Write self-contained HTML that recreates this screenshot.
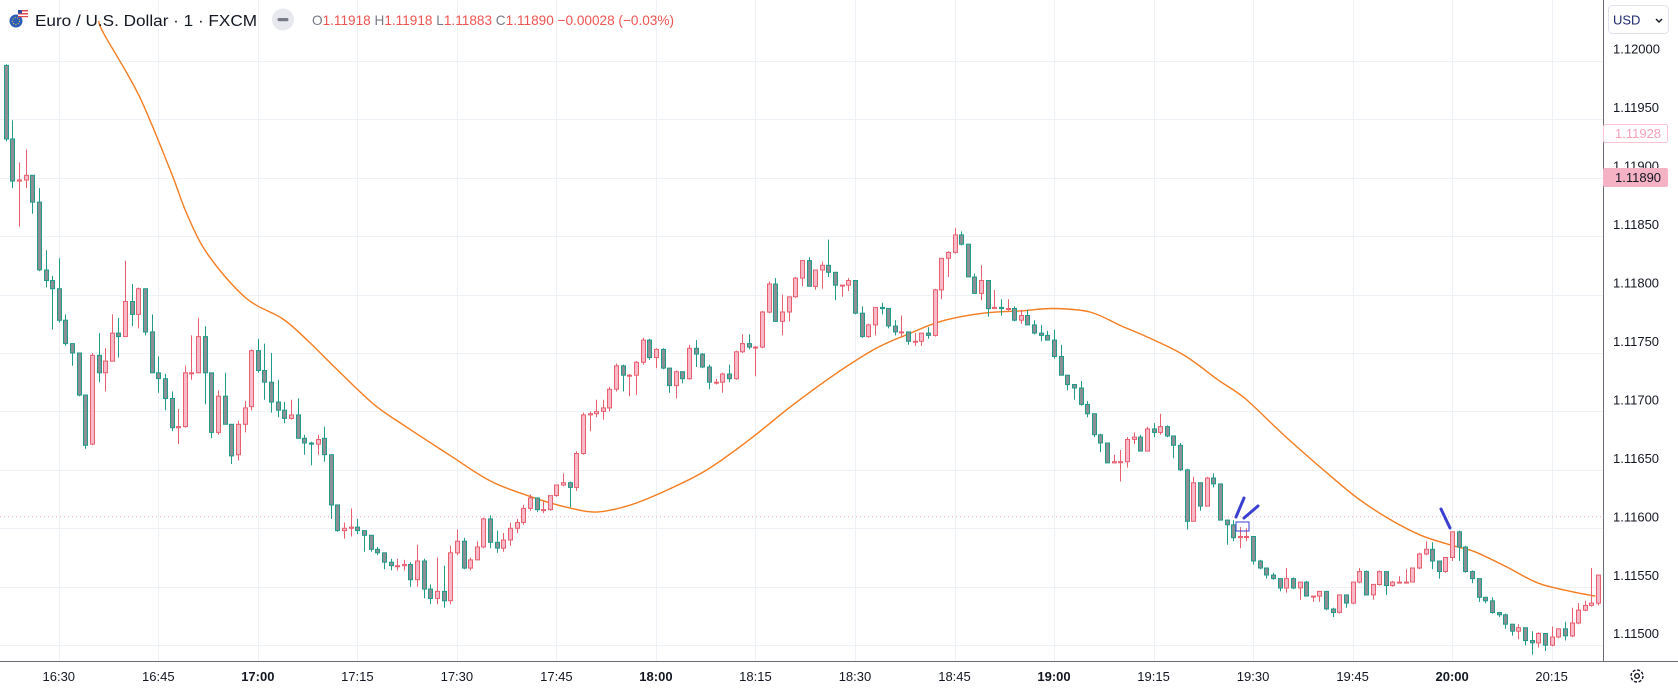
<!DOCTYPE html>
<html><head><meta charset="utf-8"><style>
html,body{margin:0;padding:0;background:#fff;}
svg{display:block;font-family:"Liberation Sans",sans-serif;}
</style></head><body>
<svg id="chart" width="1678" height="693" viewBox="0 0 1678 693" xmlns="http://www.w3.org/2000/svg">
<rect x="0" y="0" width="1678" height="693" fill="#ffffff"/>
<g id="grid"></g>
<line x1="0" y1="516.7" x2="1603" y2="516.7" stroke="#f5a8bf" stroke-width="1" stroke-dasharray="1,3"/>
<g id="ma"></g>
<g id="candles"></g>
<g stroke="#3b3fd0" stroke-width="3" stroke-linecap="round" fill="none">
<line x1="1244" y1="498" x2="1236" y2="517"/>
<line x1="1258" y1="506" x2="1244" y2="518"/>
<rect x="1236" y="522" width="13" height="9" stroke-width="1"/>
<line x1="1441" y1="509" x2="1450" y2="528"/>
</g>
<rect x="1603" y="0" width="75" height="693" fill="#fff"/>
<rect x="0" y="661" width="1678" height="32" fill="#fff"/>
<line x1="1603.5" y1="0" x2="1603.5" y2="661" stroke="#6a6d78" stroke-width="1"/>
<line x1="0" y1="661.5" x2="1678" y2="661.5" stroke="#6a6d78" stroke-width="1"/>
<g id="ylabels"></g>
<g id="xlabels"></g>
<g>
<rect x="1608.5" y="5.5" width="60" height="28" rx="4" fill="#fff" stroke="#e0e3eb"/>
<text x="1613" y="24.5" font-size="13" fill="#1e2a6e">USD</text>
<path d="M1656 19 l3 3 l3 -3" stroke="#131722" stroke-width="1.4" fill="none"/>
</g>
<g>
<rect x="1603.5" y="124.5" width="64" height="18" fill="#fff" stroke="#f9c3d2" rx="2"/>
<text x="1615" y="138" font-size="13" fill="#f4a0b9">1.11928</text>
</g>
<g>
<rect x="1603" y="168" width="65" height="19" fill="#f5b2c5" rx="2"/>
<text x="1615" y="182" font-size="13" fill="#131722">1.11890</text>
</g>
<g fill="none" stroke="#131722" stroke-width="1.4">
<circle cx="1637" cy="676" r="6" stroke-dasharray="3,1.7"/>
<circle cx="1637" cy="676" r="2.3"/>
</g>
<g>
<g>
<circle cx="16" cy="21" r="6.5" fill="#2a5cb8"/>
<circle cx="16" cy="21" r="3.5" fill="none" stroke="#f5d23a" stroke-width="1" stroke-dasharray="1,1.5"/>
<rect x="18" y="10" width="10" height="7" fill="#fff"/>
<rect x="18" y="10" width="10" height="1.5" fill="#e0474b"/>
<rect x="18" y="13" width="10" height="1.5" fill="#e0474b"/>
<rect x="18" y="16" width="10" height="1.2" fill="#e0474b"/>
<rect x="18" y="10" width="4" height="3.5" fill="#2a4fa0"/>
</g>
<text x="35" y="26" font-size="16" fill="#131722" textLength="222" lengthAdjust="spacingAndGlyphs">Euro / U.S. Dollar · 1 · FXCM</text>
<circle cx="283" cy="19.5" r="11" fill="#e6e8ee"/>
<rect x="277.5" y="18" width="11" height="3.2" rx="1.6" fill="#787b86"/>
<text x="312" y="25" font-size="14" textLength="362" lengthAdjust="spacingAndGlyphs"><tspan fill="#787b86">O</tspan><tspan fill="#ef5350">1.11918 </tspan><tspan fill="#787b86">H</tspan><tspan fill="#ef5350">1.11918 </tspan><tspan fill="#787b86">L</tspan><tspan fill="#ef5350">1.11883 </tspan><tspan fill="#787b86">C</tspan><tspan fill="#ef5350">1.11890 −0.00028 (−0.03%)</tspan></text>
</g>
</svg>
<script>
const openP=[1.11996,1.11933,1.11897,1.11898,1.11902,1.11879,1.11821,1.11812,1.11805,1.11778,1.11758,1.11750,1.11714,1.11672,1.11748,1.11733,1.11743,1.11767,1.11764,1.11794,1.11783,1.11805,1.11768,1.11733,1.11728,1.11711,1.11686,1.11687,1.11733,1.11733,1.11764,1.11733,1.11682,1.11713,1.11689,1.11663,1.11689,1.11704,1.11752,1.11735,1.11725,1.11708,1.11701,1.11694,1.11697,1.11677,1.11673,1.11672,1.11677,1.11663,1.11620,1.11598,1.11600,1.11601,1.11598,1.11594,1.11582,1.11579,1.11571,1.11568,1.11568,1.11569,1.11556,1.11572,1.11548,1.11540,1.11546,1.11538,1.11579,1.11589,1.11566,1.11573,1.11584,1.11608,1.11588,1.11583,1.11590,1.11600,1.11605,1.11617,1.11626,1.11616,1.11616,1.11628,1.11637,1.11639,1.11635,1.11664,1.11697,1.11698,1.11700,1.11703,1.11719,1.11739,1.11731,1.11731,1.11742,1.11761,1.11746,1.11753,1.11737,1.11722,1.11734,1.11728,1.11754,1.11749,1.11738,1.11725,1.11725,1.11732,1.11728,1.11751,1.11758,1.11755,1.11755,1.11785,1.11809,1.11777,1.11785,1.11798,1.11814,1.11829,1.11807,1.11821,1.11825,1.11819,1.11808,1.11808,1.11812,1.11784,1.11764,1.11774,1.11789,1.11788,1.11773,1.11768,1.11768,1.11760,1.11760,1.11767,1.11765,1.11804,1.11831,1.11836,1.11851,1.11843,1.11815,1.11801,1.11812,1.11788,1.11789,1.11788,1.11788,1.11778,1.11782,1.11774,1.11767,1.11765,1.11761,1.11747,1.11731,1.11723,1.11720,1.11706,1.11698,1.11680,1.11673,1.11656,1.11657,1.11657,1.11676,1.11678,1.11666,1.11685,1.11682,1.11687,1.11679,1.11671,1.11650,1.11606,1.11639,1.11619,1.11643,1.11638,1.11607,1.11603,1.11592,1.11593,1.11593,1.11572,1.11566,1.11560,1.11557,1.11549,1.11557,1.11549,1.11554,1.11542,1.11542,1.11546,1.11531,1.11528,1.11543,1.11536,1.11554,1.11563,1.11543,1.11552,1.11563,1.11551,1.11554,1.11554,1.11554,1.11566,1.11578,1.11582,1.11572,1.11563,1.11575,1.11597,1.11584,1.11563,1.11557,1.11541,1.11538,1.11528,1.11526,1.11518,1.11512,1.11515,1.11504,1.11502,1.11510,1.11500,1.11507,1.11514,1.11508,1.11519,1.11530,1.11534,1.11536];
const highP=[1.11997,1.11949,1.11913,1.11924,1.11902,1.11891,1.11838,1.11816,1.11831,1.11783,1.11758,1.11750,1.11714,1.11750,1.11767,1.11754,1.11783,1.11780,1.11829,1.11809,1.11806,1.11805,1.11783,1.11747,1.11732,1.11717,1.11702,1.11739,1.11765,1.11780,1.11773,1.11733,1.11718,1.11733,1.11689,1.11692,1.11709,1.11753,1.11762,1.11758,1.11750,1.11727,1.11708,1.11710,1.11711,1.11680,1.11674,1.11680,1.11687,1.11663,1.11620,1.11605,1.11617,1.11608,1.11598,1.11594,1.11584,1.11579,1.11574,1.11574,1.11573,1.11571,1.11586,1.11574,1.11552,1.11575,1.11568,1.11585,1.11599,1.11592,1.11575,1.11589,1.11609,1.11611,1.11598,1.11596,1.11605,1.11608,1.11620,1.11629,1.11626,1.11623,1.11628,1.11637,1.11647,1.11640,1.11666,1.11699,1.11700,1.11710,1.11710,1.11721,1.11741,1.11740,1.11732,1.11743,1.11763,1.11762,1.11754,1.11754,1.11737,1.11735,1.11734,1.11757,1.11761,1.11750,1.11740,1.11728,1.11733,1.11740,1.11752,1.11766,1.11766,1.11756,1.11786,1.11811,1.11814,1.11800,1.11798,1.11815,1.11829,1.11832,1.11821,1.11828,1.11847,1.11819,1.11808,1.11814,1.11812,1.11790,1.11775,1.11789,1.11793,1.11788,1.11778,1.11782,1.11768,1.11767,1.11767,1.11772,1.11805,1.11831,1.11837,1.11857,1.11854,1.11843,1.11818,1.11825,1.11812,1.11804,1.11796,1.11796,1.11790,1.11787,1.11787,1.11778,1.11774,1.11769,1.11770,1.11757,1.11731,1.11723,1.11726,1.11709,1.11698,1.11681,1.11673,1.11663,1.11667,1.11678,1.11682,1.11680,1.11687,1.11690,1.11698,1.11688,1.11679,1.11673,1.11651,1.11644,1.11639,1.11644,1.11647,1.11638,1.11607,1.11607,1.11601,1.11600,1.11593,1.11573,1.11566,1.11562,1.11557,1.11566,1.11558,1.11554,1.11555,1.11542,1.11546,1.11546,1.11532,1.11543,1.11543,1.11554,1.11566,1.11564,1.11552,1.11564,1.11563,1.11555,1.11559,1.11565,1.11566,1.11579,1.11589,1.11588,1.11572,1.11575,1.11597,1.11598,1.11585,1.11564,1.11557,1.11541,1.11541,1.11528,1.11527,1.11518,1.11518,1.11506,1.11512,1.11511,1.11508,1.11516,1.11514,1.11520,1.11532,1.11536,1.11538,1.11566];
const lowP=[1.11931,1.11891,1.11858,1.11891,1.11869,1.11820,1.11806,1.11770,1.11776,1.11756,1.11739,1.11713,1.11668,1.11671,1.11725,1.11717,1.11743,1.11746,1.11764,1.11773,1.11771,1.11765,1.11733,1.11716,1.11701,1.11683,1.11672,1.11686,1.11727,1.11733,1.11706,1.11677,1.11680,1.11689,1.11655,1.11658,1.11682,1.11701,1.11733,1.11710,1.11699,1.11695,1.11690,1.11693,1.11677,1.11663,1.11654,1.11663,1.11657,1.11608,1.11597,1.11591,1.11593,1.11595,1.11580,1.11580,1.11577,1.11565,1.11564,1.11564,1.11564,1.11550,1.11550,1.11540,1.11535,1.11535,1.11532,1.11535,1.11577,1.11565,1.11564,1.11573,1.11583,1.11583,1.11579,1.11580,1.11585,1.11596,1.11603,1.11615,1.11614,1.11613,1.11615,1.11627,1.11636,1.11618,1.11632,1.11663,1.11683,1.11695,1.11693,1.11700,1.11717,1.11717,1.11713,1.11714,1.11740,1.11744,1.11737,1.11736,1.11716,1.11711,1.11724,1.11727,1.11738,1.11737,1.11719,1.11723,1.11716,1.11725,1.11727,1.11750,1.11753,1.11730,1.11754,1.11784,1.11777,1.11765,1.11777,1.11797,1.11807,1.11807,1.11804,1.11805,1.11815,1.11795,1.11798,1.11803,1.11783,1.11763,1.11763,1.11765,1.11783,1.11771,1.11765,1.11764,1.11757,1.11756,1.11756,1.11762,1.11764,1.11796,1.11815,1.11835,1.11842,1.11815,1.11801,1.11795,1.11781,1.11788,1.11782,1.11786,1.11777,1.11775,1.11774,1.11766,1.11760,1.11761,1.11745,1.11731,1.11718,1.11710,1.11705,1.11695,1.11678,1.11665,1.11656,1.11656,1.11640,1.11652,1.11672,1.11666,1.11666,1.11678,1.11680,1.11678,1.11660,1.11649,1.11599,1.11606,1.11615,1.11619,1.11635,1.11607,1.11586,1.11589,1.11583,1.11589,1.11569,1.11565,1.11557,1.11556,1.11546,1.11545,1.11548,1.11539,1.11542,1.11537,1.11537,1.11530,1.11524,1.11527,1.11532,1.11535,1.11553,1.11543,1.11539,1.11551,1.11543,1.11550,1.11553,1.11553,1.11554,1.11565,1.11577,1.11565,1.11557,1.11562,1.11572,1.11572,1.11562,1.11553,1.11537,1.11536,1.11527,1.11524,1.11514,1.11508,1.11505,1.11500,1.11492,1.11498,1.11495,1.11499,1.11506,1.11504,1.11507,1.11518,1.11529,1.11533,1.11534];
const closeP=[1.11933,1.11897,1.11898,1.11902,1.11879,1.11821,1.11812,1.11805,1.11778,1.11758,1.11750,1.11714,1.11671,1.11748,1.11733,1.11743,1.11767,1.11764,1.11794,1.11783,1.11805,1.11768,1.11733,1.11728,1.11711,1.11686,1.11687,1.11733,1.11733,1.11764,1.11733,1.11682,1.11713,1.11689,1.11662,1.11689,1.11703,1.11752,1.11735,1.11725,1.11708,1.11701,1.11694,1.11697,1.11677,1.11673,1.11672,1.11676,1.11663,1.11620,1.11598,1.11600,1.11601,1.11598,1.11594,1.11582,1.11579,1.11571,1.11568,1.11568,1.11569,1.11556,1.11572,1.11548,1.11540,1.11546,1.11538,1.11579,1.11589,1.11566,1.11573,1.11584,1.11608,1.11588,1.11583,1.11590,1.11600,1.11605,1.11617,1.11626,1.11616,1.11616,1.11628,1.11637,1.11639,1.11635,1.11664,1.11697,1.11698,1.11700,1.11703,1.11719,1.11739,1.11731,1.11731,1.11742,1.11761,1.11746,1.11753,1.11737,1.11722,1.11734,1.11728,1.11754,1.11749,1.11738,1.11725,1.11725,1.11732,1.11728,1.11751,1.11758,1.11755,1.11755,1.11785,1.11809,1.11777,1.11785,1.11798,1.11814,1.11829,1.11807,1.11821,1.11825,1.11819,1.11808,1.11808,1.11812,1.11784,1.11764,1.11774,1.11789,1.11788,1.11773,1.11768,1.11768,1.11760,1.11760,1.11767,1.11765,1.11804,1.11831,1.11836,1.11851,1.11843,1.11815,1.11801,1.11812,1.11788,1.11789,1.11788,1.11788,1.11778,1.11782,1.11774,1.11767,1.11765,1.11761,1.11747,1.11731,1.11723,1.11720,1.11706,1.11698,1.11680,1.11673,1.11656,1.11657,1.11657,1.11676,1.11678,1.11666,1.11685,1.11682,1.11687,1.11679,1.11671,1.11650,1.11606,1.11639,1.11619,1.11643,1.11638,1.11607,1.11603,1.11592,1.11593,1.11593,1.11572,1.11566,1.11560,1.11557,1.11549,1.11557,1.11549,1.11554,1.11542,1.11542,1.11546,1.11531,1.11528,1.11543,1.11536,1.11554,1.11563,1.11543,1.11552,1.11563,1.11551,1.11554,1.11554,1.11554,1.11566,1.11578,1.11582,1.11572,1.11563,1.11575,1.11597,1.11584,1.11563,1.11557,1.11541,1.11538,1.11528,1.11526,1.11518,1.11512,1.11515,1.11504,1.11502,1.11510,1.11500,1.11507,1.11514,1.11508,1.11519,1.11530,1.11534,1.11536,1.11560];
const maIndex=[15,15.8,21.1,25.9,28.3,31.5,37.2,42.8,46.8,50.9,56.5,61.3,67.8,74.2,80.7,86.3,90.3,95.2,100,106.4,112.9,119.3,125.8,132.2,137,141.9,148.3,154,158.8,164.4,169.2,174.1,178.9,183.7,187.8,193.4,199.8,204.7,209.5,214.3,219.2,222.4,227.2,232,236.9,240.6];
const maValue=[1.12034,1.12023,1.11970,1.11905,1.11869,1.11834,1.11797,1.11779,1.11759,1.11736,1.11706,1.11687,1.11663,1.11640,1.11626,1.11617,1.11614,1.11620,1.11631,1.11649,1.11675,1.11704,1.11731,1.11754,1.11766,1.11777,1.11784,1.11786,1.11788,1.11785,1.11773,1.11761,1.11747,1.11727,1.11711,1.11681,1.11649,1.11626,1.11608,1.11594,1.11585,1.11580,1.11567,1.11553,1.11546,1.11542];
const priceTicks=["1.12000","1.11950","1.11900","1.11850","1.11800","1.11750","1.11700","1.11650","1.11600","1.11550","1.11500"];
const timeTicks=["16:30","16:45","17:00","17:15","17:30","17:45","18:00","18:15","18:30","18:45","19:00","19:15","19:30","19:45","20:00","20:15"];
const startMinute=16*60+22;

const NS="http://www.w3.org/2000/svg";
function yOf(p){return 60.7+(1.12-p)*116900;}
function xOfIndex(i){return 5.7+6.635*i;}
function minuteOf(label){const a=label.split(":");return (+a[0])*60+(+a[1]);}
function xOfTime(label){return xOfIndex(minuteOf(label)-startMinute);}
function mk(tag,attrs,parent){const e=document.createElementNS(NS,tag);for(const k in attrs)e.setAttribute(k,attrs[k]);parent.appendChild(e);return e;}

const grid=document.getElementById('grid');
priceTicks.forEach(t=>{
  const y=Math.round(yOf(parseFloat(t)))+0.5;
  const l=mk('line',{x1:0,x2:1603,y1:y,y2:y,stroke:'#eef1f6','stroke-width':1},grid);
  
  
});
timeTicks.forEach(t=>{
  const x=Math.round(xOfTime(t))+0.5;
  const l=mk('line',{x1:x,x2:x,y1:0,y2:661,stroke:'#eef1f6','stroke-width':1},grid);
  
  
});

const ylab=document.getElementById('ylabels');
priceTicks.forEach(t=>{
  const tx=mk('text',{x:1613,y:yOf(parseFloat(t))-7,'font-size':13,fill:'#131722'},ylab);
  tx.textContent=t;
  
  
});
const xlab=document.getElementById('xlabels');
timeTicks.forEach(t=>{
  const bold=t.endsWith(":00");
  const tx=mk('text',{x:xOfTime(t),y:681,'font-size':13,fill:'#131722','text-anchor':'middle','font-weight':bold?'bold':'normal'},xlab);
  tx.textContent=t;
  
  
});

const ma=document.getElementById('ma');
const P=maIndex.map((idx,k)=>[xOfIndex(idx-1),yOf(maValue[k])]);
let d='M'+P[0][0].toFixed(1)+' '+P[0][1].toFixed(1);
for(let k=0;k<P.length-1;k++){
  const p0=P[Math.max(k-1,0)],p1=P[k],p2=P[k+1],p3=P[Math.min(k+2,P.length-1)];
  const c1=[p1[0]+(p2[0]-p0[0])/6,p1[1]+(p2[1]-p0[1])/6];
  const c2=[p2[0]-(p3[0]-p1[0])/6,p2[1]-(p3[1]-p1[1])/6];
  d+=' C'+c1[0].toFixed(1)+' '+c1[1].toFixed(1)+' '+c2[0].toFixed(1)+' '+c2[1].toFixed(1)+' '+p2[0].toFixed(1)+' '+p2[1].toFixed(1);
}
const pl=mk('path',{d:d,fill:'none',stroke:'#f57c1f','stroke-width':1.4,'stroke-linejoin':'round'},ma);



const cg=document.getElementById('candles');
for(let i=0;i<closeP.length;i++){
  const o=(openP[i]!==undefined)?openP[i]:closeP[i-1];
  const c=closeP[i];
  let h=(highP[i]!==undefined)?highP[i]:Math.max(o,c);
  let l=(lowP[i]!==undefined)?lowP[i]:Math.min(o,c);
  h=Math.max(h,o,c); l=Math.min(l,o,c);
  const up=c>=o;
  const stroke=up?'#e8606f':'#1e9c89';
  const fill=up?'#f8b9c8':'#8c8f94';
  const x=Math.round(xOfIndex(i))+0.5;
  const g=mk('g',{},cg);
  
  
  mk('line',{x1:x,x2:x,y1:yOf(h).toFixed(1),y2:yOf(l).toFixed(1),stroke:stroke,'stroke-width':1},g);
  const top=yOf(Math.max(o,c)),bot=yOf(Math.min(o,c));
  const hgt=Math.max(bot-top,1);
  mk('rect',{x:x-2,y:top.toFixed(1),width:4,height:hgt.toFixed(1),fill:fill,stroke:stroke,'stroke-width':1},g);
}
</script>
</body></html>
